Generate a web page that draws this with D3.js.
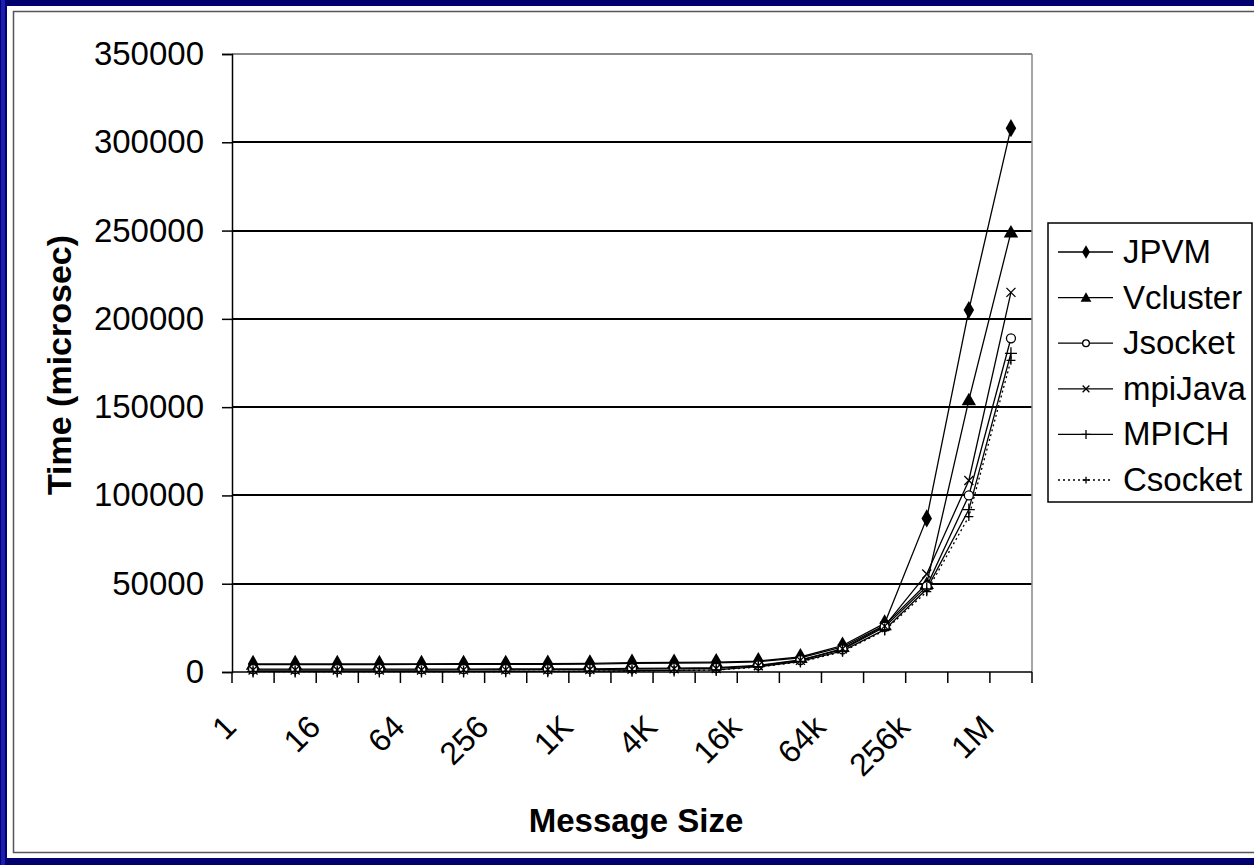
<!DOCTYPE html>
<html>
<head>
<meta charset="utf-8">
<script src="https://cdn.jsdelivr.net/npm/d3@7"></script>
<style>
  html, body { margin: 0; padding: 0; background: #00006e; }
  svg { display: block; }
  text { font-family: "Liberation Sans", Arial, sans-serif; fill: #000; }
</style>
</head>
<body>
<svg id="chart" width="1254" height="865"></svg>
<script>
// Message sizes (bytes) on the category axis
const categories = ["1","4","16","32","64","128","256","512","1K","2K","4K","8K","16k","32k","64k","128k","256k","512k","1M"];
// Only every other category gets a printed label
const labelEvery = 2;
const yTicks = [0, 50000, 100000, 150000, 200000, 250000, 300000, 350000];

// Round-trip time in microseconds for each implementation
const jpvm     = [4600,4600,4600,4600,4600,4700,4700,4800,4900,5300,5400,5600,6200,8500,15000,27500,87000,205000,308000];
const vcluster = [4200,4200,4200,4200,4300,4300,4300,4400,4500,4900,5000,5200,5800,8000,14200,26500,50000,154000,249000];
const jsocket  = [1600,1600,1600,1600,1600,1600,1700,1700,1800,2000,2200,2400,3800,6800,12800,25500,48500,100000,189000];
const mpijava  = [1100,1100,1100,1100,1100,1200,1200,1300,1400,1600,1800,2000,3500,6600,13200,26000,55500,108500,215000];
const mpich    = [300,300,300,300,300,300,400,400,500,700,900,1200,3000,6000,12000,24000,47000,92000,180500];
const csocket  = [200,200,200,200,200,200,300,300,400,600,800,1100,2800,5700,11500,23500,45500,88000,176500];

const seriesNames = ["JPVM","Vcluster","Jsocket","mpiJava","MPICH","Csocket"];
const seriesValues = [jpvm, vcluster, jsocket, mpijava, mpich, csocket];
const seriesMarkers = ["diamond","triangle","circle","x","bar","plus"];
const seriesDash = [null, null, null, null, null, "2,3"];

const svg = d3.select("#chart");
const W = 1254, H = 865;

// Slide frame: navy backdrop with a lighter edge stripe and a white panel
svg.append("rect").attr("x",0).attr("y",0).attr("width",W).attr("height",H).attr("fill","#00006e");
svg.append("rect").attr("x",1).attr("y",0).attr("width",4).attr("height",H).attr("fill","#1c1cb0");
svg.append("rect").attr("x",7).attr("y",6).attr("width",W-7).attr("height",852).attr("fill","#fff");
svg.append("path").attr("d",`M${W},11.5 H13.5 V852.5 H${W}`)
  .attr("fill","none").attr("stroke","#555").attr("stroke-width",1.5);

const plot = {left: 232, right: 1032, top: 54, bottom: 672};

const x = d3.scaleBand().domain(categories).range([plot.left, plot.right]).paddingInner(0).paddingOuter(0);
const y = d3.scaleLinear().domain([0, 350000]).range([plot.bottom, plot.top]);
const cx = c => x(c) + x.bandwidth() / 2;

// Horizontal gridlines, snapped to whole pixels so they all look equally heavy
svg.append("g").selectAll("line").data(yTicks.filter(v => v > 0)).join("line")
  .attr("x1", plot.left).attr("x2", plot.right)
  .attr("y1", d => Math.round(y(d))).attr("y2", d => Math.round(y(d)))
  .attr("stroke", d => d === 350000 ? "#888" : "#000")
  .attr("stroke-width", 2)
  .attr("shape-rendering","crispEdges");

// Plot-area border on the right
svg.append("line").attr("x1",plot.right).attr("x2",plot.right).attr("y1",plot.top).attr("y2",plot.bottom)
  .attr("stroke","#888").attr("stroke-width",1.5);

// Y axis
const yAxis = d3.axisLeft(y).tickValues(yTicks).tickSize(10).tickPadding(18).tickFormat(d3.format("d"));
const gy = svg.append("g").attr("transform", `translate(${plot.left},0)`).call(yAxis);
gy.select(".domain").attr("stroke","#000").attr("stroke-width",1.5);
gy.selectAll(".tick line").attr("stroke","#000").attr("stroke-width",1.5);
gy.selectAll(".tick text").attr("font-size", 33).attr("font-family","Liberation Sans, Arial, sans-serif").attr("fill","#000");

// X axis: ticks on category boundaries, rotated labels for every other category
const gx = svg.append("g");
gx.append("line").attr("x1",plot.left).attr("x2",plot.right).attr("y1",plot.bottom).attr("y2",plot.bottom)
  .attr("stroke","#000").attr("stroke-width",1.5);
const bounds = categories.map(c => x(c)).concat([x(categories[categories.length-1]) + x.bandwidth()]);
gx.selectAll("line.tk").data(bounds).join("line").attr("class","tk")
  .attr("x1", d => d).attr("x2", d => d).attr("y1", plot.bottom).attr("y2", plot.bottom + 11)
  .attr("stroke","#000").attr("stroke-width",1.5);
gx.selectAll("text").data(categories.filter((c,i) => i % labelEvery === 0)).join("text")
  .attr("transform", c => `translate(${cx(c) - 15},${plot.bottom + 57}) rotate(-45)`)
  .attr("text-anchor","end")
  .attr("font-size", 32)
  .text(c => c);

// Axis titles
svg.append("text")
  .attr("transform", `translate(71,${(plot.top + plot.bottom) / 2 + 2}) rotate(-90)`)
  .attr("text-anchor","middle").attr("font-size", 34).attr("font-weight","bold")
  .text("Time (microsec)");
svg.append("text")
  .attr("x", (plot.left + plot.right) / 2 + 4).attr("y", 832)
  .attr("text-anchor","middle").attr("font-size", 33).attr("font-weight","bold")
  .text("Message Size");

// Marker drawing
function drawMarker(g, type, s) {
  switch (type) {
    case "diamond":
      g.append("path").attr("d", d3.symbol(d3.symbolDiamond, 95*s*s)()).attr("fill","#000");
      break;
    case "triangle":
      g.append("path").attr("d", d3.symbol(d3.symbolTriangle, 90*s*s)()).attr("transform","translate(0,1)").attr("fill","#000");
      break;
    case "circle":
      g.append("circle").attr("r", 4.5*s).attr("fill","#fff").attr("stroke","#000").attr("stroke-width",1.3);
      break;
    case "x": {
      const a = 4.5*s;
      g.append("path").attr("d", `M${-a},${-a}L${a},${a}M${-a},${a}L${a},${-a}`).attr("stroke","#000").attr("stroke-width",1.3);
      break;
    }
    case "bar": {
      const a = 6*s;
      g.append("path").attr("d", `M0,${-a}V${a}M${-a},0H${a}`).attr("stroke","#000").attr("stroke-width",1.3);
      break;
    }
    case "plus": {
      const a = 4.5*s;
      g.append("path").attr("d", `M0,${-a}V${a}M${-a},0H${a}`).attr("stroke","#000").attr("stroke-width",1.3);
      break;
    }
  }
}

const line = d3.line().x((d,i) => cx(categories[i])).y(d => y(d));

// Series lines first, then the markers on top
seriesValues.forEach((vals, k) => {
  svg.append("path").datum(vals).attr("d", line)
    .attr("fill","none").attr("stroke","#000").attr("stroke-width",1.3)
    .attr("stroke-dasharray", seriesDash[k]);
});
seriesValues.forEach((vals, k) => {
  vals.forEach((v, i) => {
    const g = svg.append("g").attr("transform", `translate(${cx(categories[i])},${y(v)})`);
    drawMarker(g, seriesMarkers[k], 1);
  });
});

// Legend
const lg = svg.append("g");
lg.append("rect").attr("x",1048).attr("y",223).attr("width",204).attr("height",279)
  .attr("fill","#fff").attr("stroke","#000").attr("stroke-width",1.5);
seriesNames.forEach((name, k) => {
  const ly = 252 + k * 45.6;
  lg.append("line").attr("x1",1058).attr("x2",1113).attr("y1",ly).attr("y2",ly)
    .attr("stroke","#000").attr("stroke-width",1.3).attr("stroke-dasharray", seriesDash[k]);
  drawMarker(lg.append("g").attr("transform",`translate(1086,${ly})`), seriesMarkers[k], 0.75);
  lg.append("text").attr("x",1123).attr("y",ly + 11).attr("font-size",33).text(name);
});
</script>
</body>
</html>
